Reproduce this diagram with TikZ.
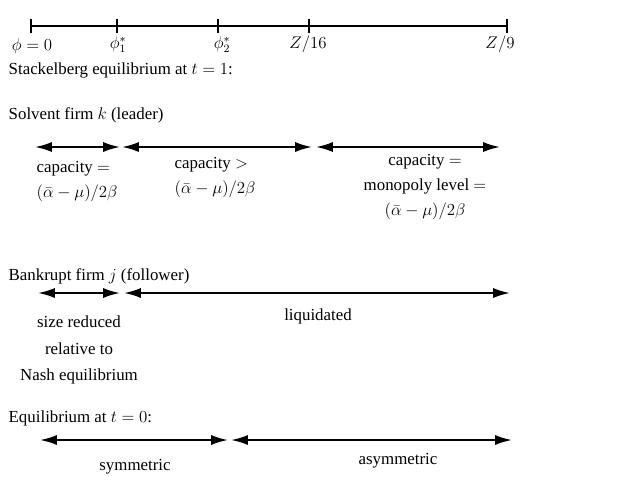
\documentclass[tikz,border=0pt]{standalone}
\usepackage{fontspec}
\setmainfont{Liberation Serif}
\usetikzlibrary{arrows.meta}

\begin{document}
\begin{tikzpicture}[x=0.025cm, y=-0.025cm,
    every node/.style={font=\fontsize{12}{17.5}\selectfont, inner sep=1pt},
    heading/.style={anchor=west},
    note/.style={align=center},
    axis/.style={line width=1pt},
    span/.style={{Latex[length=0.42cm,width=0.25cm]}-{Latex[length=0.42cm,width=0.25cm]}, line width=1.4pt},
]
\useasboundingbox (0,0) rectangle (644,476);

% Parameter axis
\foreach \x/\n in {31/a0, 117/a1, 218/a2, 309/a3, 507/a4} {
    \coordinate (\n) at (\x,26);
    \draw[axis] (\x,19) -- (\x,33);
}
\draw[axis] (a0) -- (a4);
\node (phi0) at (32,46) {$\phi = 0$};
\node (phi1) at (118,45) {$\phi_1^*$};
\node (phi2) at (222,45) {$\phi_2^*$};
\node (z16) at (308,44) {$Z/16$};
\node (z9) at (500,44) {$Z/9$};

% Stackelberg at t = 1
\node[heading] (stack) at (7,70) {Stackelberg equilibrium at $t = 1$:};

% Solvent firm
\node[heading] (solvent) at (7,115) {Solvent firm $k$ (leader)};
\coordinate (s0) at (35,147);  \coordinate (s1) at (120,147);
\coordinate (s2) at (122,147); \coordinate (s3) at (312,147);
\coordinate (s4) at (316,147); \coordinate (s5) at (500,147);
\draw[span] (s0) -- (s1);
\draw[span] (s2) -- (s3);
\draw[span] (s4) -- (s5);
\node[note, anchor=north west, align=left] (cap1) at (35,160)
    {capacity $=$\\$(\bar\alpha - \mu)/2\beta$};
\node[note, anchor=north west, align=left] (cap2) at (173,156)
    {capacity $>$\\$(\bar\alpha - \mu)/2\beta$};
\node[note, anchor=north] (cap3) at (425,153)
    {capacity $=$\\monopoly level $=$\\$(\bar\alpha - \mu)/2\beta$};

% Bankrupt firm
\node[heading] (bankrupt) at (7,276) {Bankrupt firm $j$ (follower)};
\coordinate (b0) at (38,293);  \coordinate (b1) at (120,293);
\coordinate (b2) at (124,293); \coordinate (b3) at (510,293);
\draw[span] (b0) -- (b1);
\draw[span] (b2) -- (b3);
\node[note, font=\fontsize{12}{19}\selectfont, anchor=north] (reduced) at (79,314)
    {size reduced\\relative to\\Nash equilibrium};
\node (liq) at (318,316) {liquidated};

% Equilibrium at t = 0
\node[heading] (eqzero) at (7,418) {Equilibrium at $t = 0$:};
\coordinate (e0) at (40,440);  \coordinate (e1) at (228,440);
\coordinate (e2) at (231,440); \coordinate (e3) at (512,440);
\draw[span] (e0) -- (e1);
\draw[span] (e2) -- (e3);
\node (sym) at (135,467) {symmetric};
\node (asym) at (398,461) {asymmetric};

\end{tikzpicture}
\end{document}
